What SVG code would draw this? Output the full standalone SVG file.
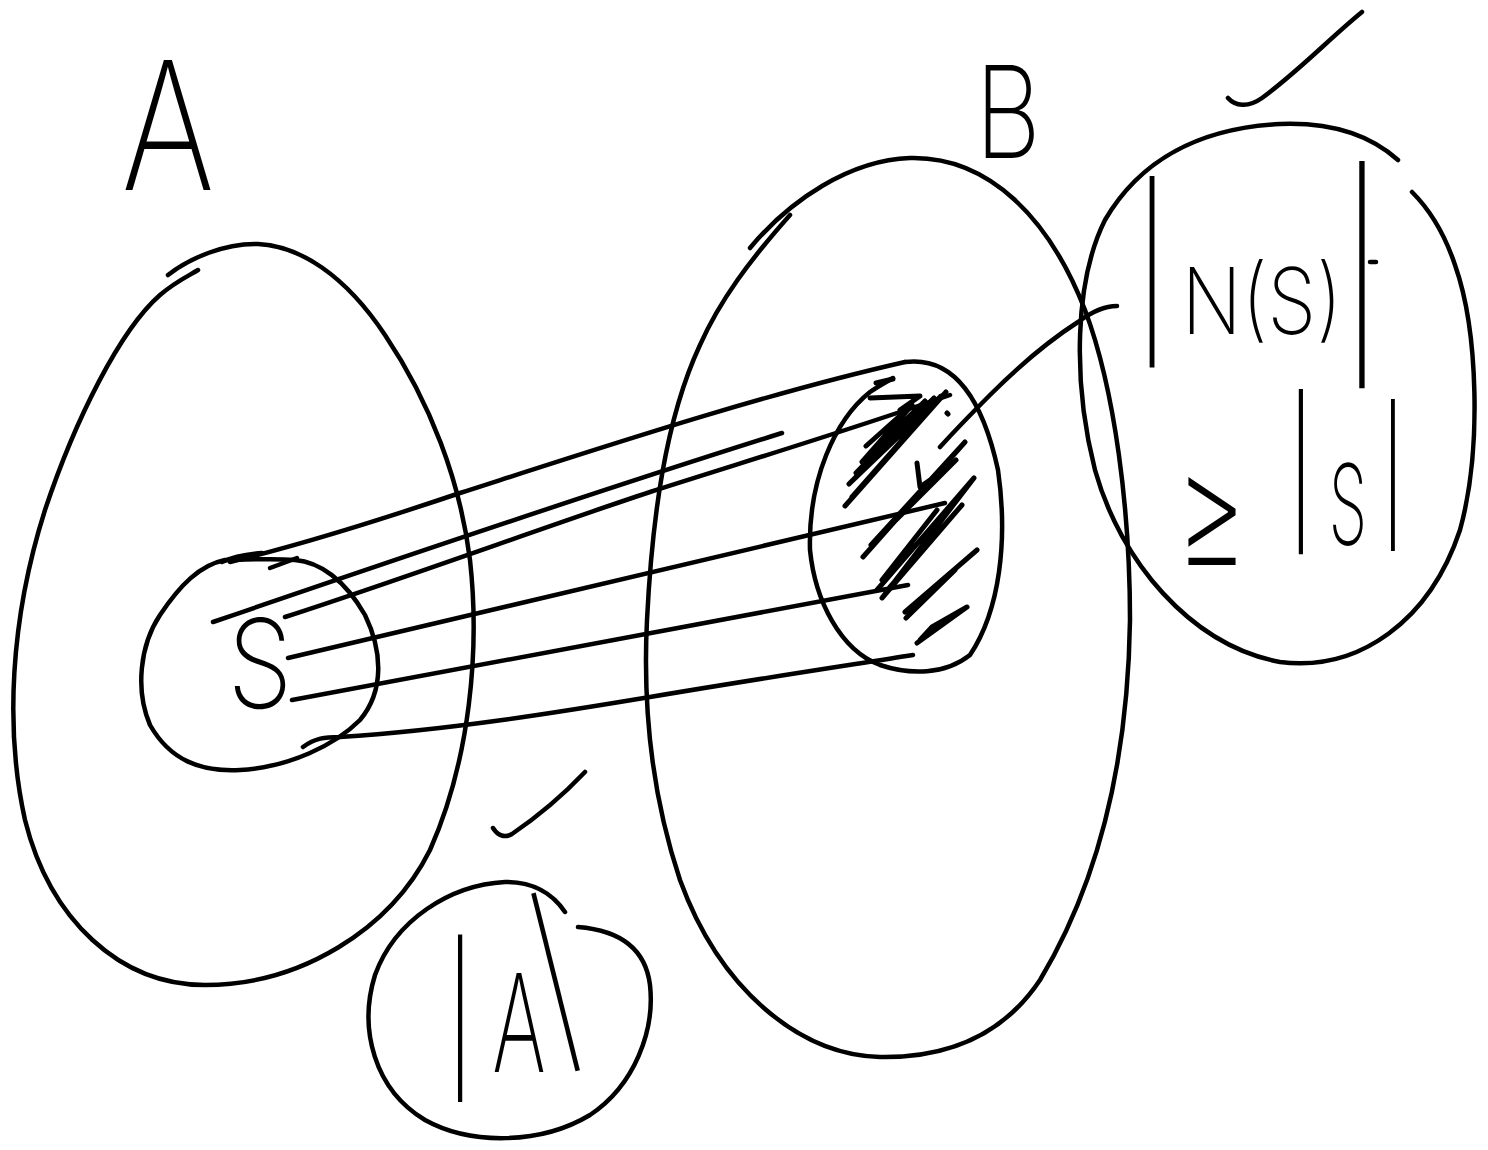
<svg xmlns="http://www.w3.org/2000/svg" width="1488" height="1150" viewBox="0 0 1488 1150">
<style>
.s{fill:none;stroke:#000;stroke-width:4.5;stroke-linecap:round;stroke-linejoin:round}
.z{fill:none;stroke:#000;stroke-width:5;stroke-linecap:round;stroke-linejoin:round}
.t{font-family:"Inter","Lato","Open Sans","DejaVu Sans",sans-serif;font-weight:200;fill:#000;text-anchor:middle}
</style>
<rect width="1488" height="1150" fill="#fff"/>
<g id="setA">
<path class="s" d="M168,275 C190,258 225,243 258,244 C300,246 345,275 385,335 C430,402 460,480 470,560 C480,650 470,760 430,850 C390,930 300,985 205,985 C120,985 50,920 25,820 C5,730 10,620 45,510 C75,420 120,330 160,295 C175,282 190,275 198,270"/>
<text class="t" transform="translate(168,190) scale(0.8,1)" font-size="178">A</text>
</g>
<g id="setB">
<path class="s" d="M750,248 C790,200 850,160 910,158 C990,156 1050,220 1085,310 C1115,390 1130,510 1130,620 C1128,760 1100,880 1040,980 C1000,1040 940,1058 880,1057 C800,1055 720,990 680,880 C650,790 643,700 647,620 C652,520 665,420 700,345 C720,300 750,260 790,215"/>
<text class="t" transform="translate(1008,158) scale(0.8,1)" font-size="128">B</text>
</g>
<g id="subsetS">
<path class="s" d="M225,560 C200,565 180,585 160,615 C140,645 135,690 150,725 C170,760 200,772 240,770 C290,767 335,745 360,720 C385,690 382,650 365,615 C345,580 320,562 295,560 C270,558 245,560 225,560"/>
<path class="s" d="M222,562 C235,556 250,554 262,553" stroke-width="7"/>
<path class="s" d="M270,568 L297,558"/>
<text class="t" transform="translate(260,708) scale(0.85,1)" font-size="123">S</text>
</g>
<g id="neighbourhood">
<path class="s" d="M905,362 C960,355 985,410 998,470 C1008,540 1000,610 970,655 C945,675 910,675 880,665 C840,650 815,600 810,550 C808,480 835,420 870,392 C880,385 888,381 893,378"/>
<path class="z" d="M876,383 L893,379 M845,506 L946,392 L852,497 L941,396 L849,484 L934,398 L856,473 L925,401 L862,462 L912,405 L866,446 M870,398 L920,396 L900,410 M917,463 L920,487 L930,480 M947,413 L948,414 M863,557 L965,442 L871,545 L956,460 M877,590 L974,478 L882,598 L962,505 L890,587 M882,580 L937,510 M905,612 L977,550 M906,618 L955,570 M917,643 L967,607 L932,627 L920,640"/>
</g>
<g id="connectors">
<path class="s" d="M230,562 C300,545 380,520 460,493 C600,448 760,395 905,362"/>
<path class="s" d="M213,622 C350,575 600,490 782,433"/>
<path class="s" d="M285,617 C400,580 550,525 650,492 C750,460 850,430 950,395"/>
<path class="s" d="M288,658 L945,503"/>
<path class="s" d="M292,700 L908,585"/>
<path class="s" d="M303,747 C315,738 325,737 340,737 C450,730 560,712 650,697 C750,680 850,665 913,655"/>
<path class="s" d="M940,447 C960,425 975,410 990,395 C1020,365 1050,340 1078,322 C1090,313 1105,306 1117,306"/>
</g>
<g id="boundNS">
<path class="s" d="M1398,160 C1370,135 1330,122 1280,124 C1200,128 1140,160 1105,220 C1075,280 1072,380 1095,470 C1120,560 1190,645 1280,662 C1360,672 1430,620 1460,530 C1482,450 1478,330 1455,265 C1445,235 1430,210 1412,192"/>
<text class="t" transform="translate(1152,330) scale(0.75,1)" font-size="160">|</text>
<text class="t" transform="translate(1262,334) scale(0.85,1)" font-size="92">N(S)</text>
<text class="t" transform="translate(1362,344) scale(0.7,1)" font-size="190">|</text>
<path class="s" d="M1370,262 L1376,262"/>
<text class="t" transform="translate(1212,572) scale(0.75,1.15)" font-size="150">≥</text>
<text class="t" transform="translate(1301,522) scale(0.75,1)" font-size="138">|</text>
<text class="t" transform="translate(1348,545) scale(0.55,1)" font-size="112">S</text>
<text class="t" transform="translate(1393,521) scale(0.75,1)" font-size="127">|</text>
<path class="s" d="M1228,98 C1235,106 1248,108 1262,98 C1300,70 1330,38 1362,12"/>
</g>
<g id="boundA">
<path class="s" d="M565,912 C550,890 530,882 505,882 C450,885 395,920 375,975 C358,1030 375,1090 425,1120 C470,1145 540,1145 590,1115 C635,1085 655,1030 650,985 C645,945 615,930 578,927"/>
<text class="t" transform="translate(460,1069) scale(0.75,1)" font-size="140">|</text>
<text class="t" transform="translate(519,1072) scale(0.6,1)" font-size="136">A</text>
<text class="t" transform="translate(569,1036) rotate(-14) scale(0.75,1)" font-size="153">|</text>
<path class="s" d="M493,828 C498,836 505,838 512,834 C540,815 565,793 585,772"/>
</g>
</svg>
